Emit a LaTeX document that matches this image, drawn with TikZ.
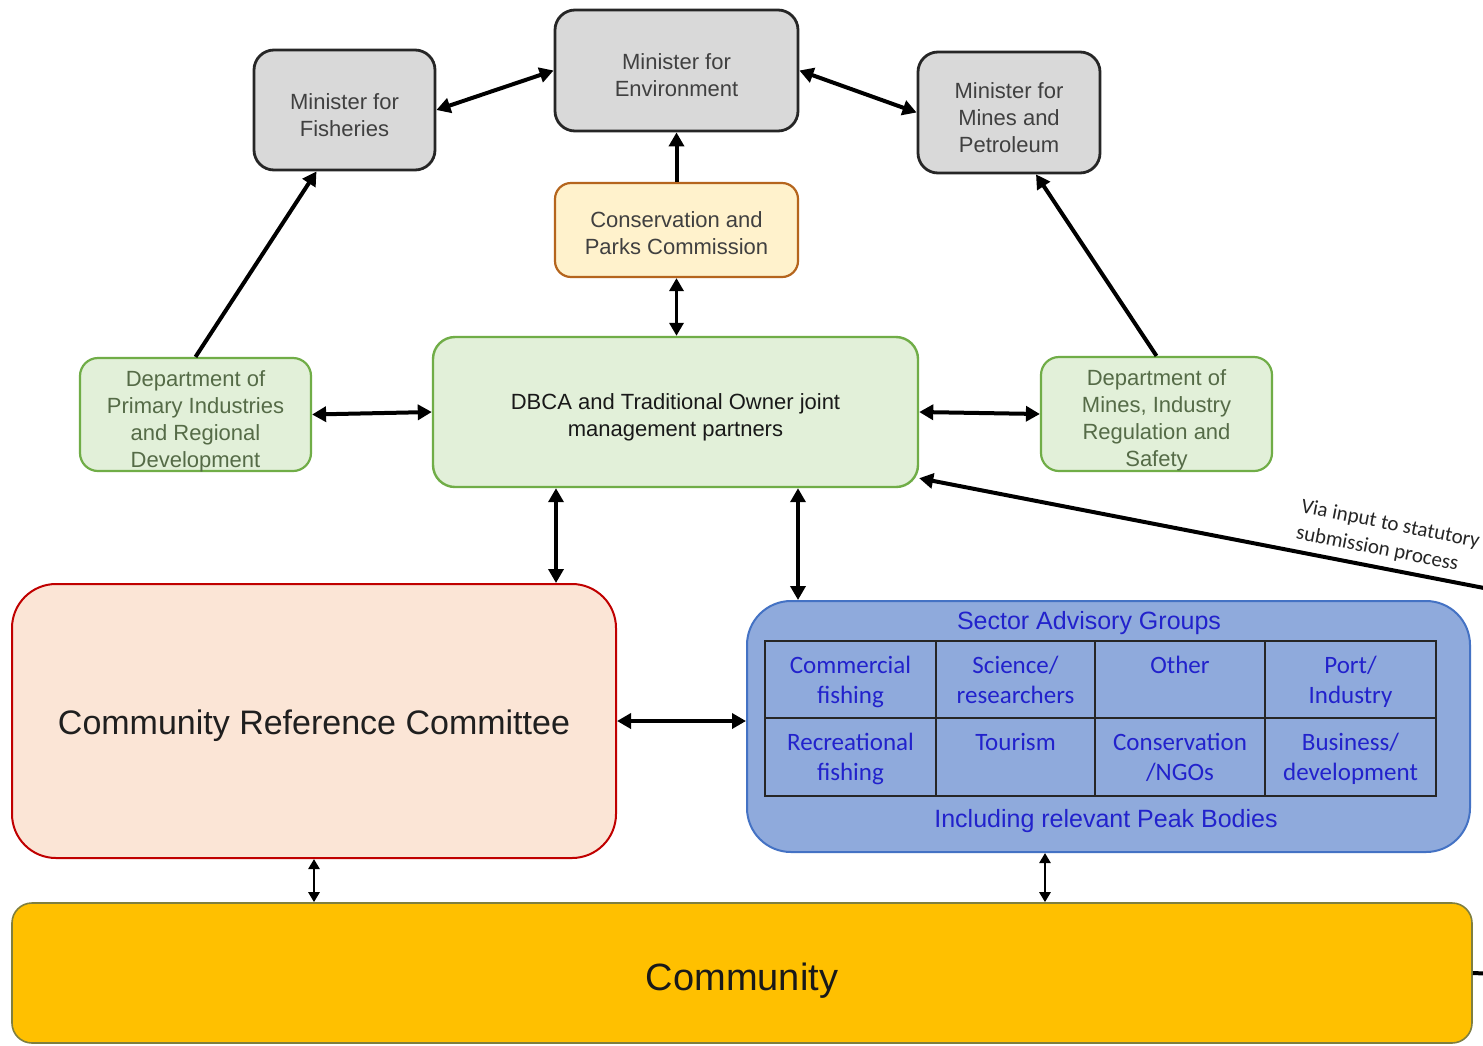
\documentclass[tikz,border=0pt]{standalone}
\usepackage{fontspec}
\setmainfont{Liberation Sans}
\newfontfamily\calfont{Carlito}
\usetikzlibrary{arrows.meta,calc}
\definecolor{grayfill}{HTML}{D9D9D9}
\definecolor{graytext}{HTML}{404040}
\definecolor{cpcfill}{HTML}{FFF2CC}
\definecolor{cpcborder}{HTML}{B5651D}
\definecolor{greenfill}{HTML}{E2F0D9}
\definecolor{greenborder}{HTML}{70AD47}
\definecolor{greentext}{HTML}{556B47}
\definecolor{crcfill}{HTML}{FBE5D6}
\definecolor{crcborder}{HTML}{C00000}
\definecolor{sagfill}{HTML}{8FAADC}
\definecolor{sagborder}{HTML}{4472C4}
\definecolor{sagtext}{HTML}{2222CC}
\definecolor{commfill}{HTML}{FFC000}
\definecolor{commborder}{HTML}{7F7F3F}
\tikzset{
  minbox/.style={draw=black!85, line width=1.4pt, fill=grayfill, rounded corners=10pt},
  cpcbox/.style={draw=cpcborder, line width=1.1pt, fill=cpcfill, rounded corners=8pt},
  greenbox/.style={draw=greenborder, line width=1.1pt, fill=greenfill, rounded corners=9pt},
  dbcabox/.style={draw=greenborder, line width=1.2pt, fill=greenfill, rounded corners=11pt},
  crcbox/.style={draw=crcborder, line width=1pt, fill=crcfill, rounded corners=22pt},
  sagbox/.style={draw=sagborder, line width=1pt, fill=sagfill, rounded corners=22pt},
  commbox/.style={draw=commborder, line width=0.8pt, fill=commfill, rounded corners=10pt},
  boxtext/.style={align=center, inner sep=0pt, font=\fontsize{11}{13.5}\selectfont},
  graytxt/.style={boxtext, text=graytext},
  greentxt/.style={boxtext, text=greentext},
  darktxt/.style={boxtext, text=black!90},
  crctxt/.style={inner sep=0pt, text=black!88, font=\fontsize{17}{20}\selectfont},
  commtxt/.style={inner sep=0pt, text=black!90, font=\fontsize{19}{22}\selectfont},
  sagtitle/.style={text=sagtext, font=\fontsize{12.5}{15}\selectfont, inner sep=0pt},
  cell/.style={anchor=north, text=sagtext, align=center, inner sep=0pt, font=\calfont\fontsize{12.5}{15}\selectfont},
  arr/.style={line width=2pt, >={Triangle[length=7pt,width=7.5pt]}},
  marr/.style={line width=1.9pt, >={Triangle[length=6.5pt,width=7pt]}},
  sarr/.style={line width=1.4pt, >={Triangle[length=5pt,width=5.5pt]}},
  vialabel/.style={anchor=west, text=black!85, inner sep=0pt, font=\calfont\fontsize{10.5}{12.5}\selectfont}
}
\begin{document}
\begin{tikzpicture}[x=0.5pt,y=-0.5pt]
\clip (0,0) rectangle (1483,1045);
\fill[white] (0,0) rectangle (1483,1045);

% boxes
\node[minbox, minimum width=90.5pt, minimum height=60pt] (fish) at (344.5,110) {};
\node[minbox, minimum width=121.5pt, minimum height=60.5pt] (env) at (676.5,70.5) {};
\node[minbox, minimum width=91pt, minimum height=60.5pt] (mines) at (1009,112.5) {};
\node[cpcbox, minimum width=121.5pt, minimum height=47pt] (cpc) at (676.5,230) {};
\node[dbcabox, minimum width=242.5pt, minimum height=75pt] (dbca) at (675.5,412) {};
\node[greenbox, minimum width=115.5pt, minimum height=56.5pt] (dpird) at (195.5,414.5) {};
\node[greenbox, minimum width=115.5pt, minimum height=57pt] (dmirs) at (1156.5,414) {};
\node[crcbox, minimum width=302pt, minimum height=137pt] (crc) at (314,721) {};
\node[sagbox, minimum width=361.5pt, minimum height=125.5pt] (sag) at (1108.5,726.5) {};
\node[commbox, minimum width=730pt, minimum height=70pt] (comm) at (742,973) {};

% box texts
\node[graytxt] (fisht) at (344.5,115) {Minister for\\Fisheries};
\node[graytxt] (envt) at (676.5,75.5) {Minister for\\Environment};
\node[graytxt] (minest) at (1009,117.5) {Minister for\\Mines and\\Petroleum};
\node[graytxt] (cpct) at (676.5,233) {Conservation and\\Parks Commission};
\node[darktxt] (dbcat) at (675.5,417) {DBCA and Traditional Owner joint\\management partners};
\node[greentxt] (dpirdt) at (195.5,421) {Department of\\Primary Industries\\and Regional\\Development};
\node[greentxt] (dmirst) at (1156.5,420) {Department of\\Mines, Industry\\Regulation and\\Safety};
\node[crctxt] (crct) at (314,726) {Community Reference Committee};
\node[commtxt] (commt) at (742,981) {Community};

% sector advisory groups content
\node[sagtitle] (sagt) at (1089,623) {Sector Advisory Groups};
\node[sagtitle] (sagb) at (1106,821) {Including relevant Peak Bodies};
\draw[line width=1pt, black!85] (765,641) rectangle (1436,796);
\draw[line width=1pt, black!85] (765,718) -- (1436,718);
\draw[line width=1pt, black!85] (936,641) -- (936,796);
\draw[line width=1pt, black!85] (1095,641) -- (1095,796);
\draw[line width=1pt, black!85] (1265,641) -- (1265,796);
\node[cell] (c11) at (850.5,656) {Commercial\\fishing};
\node[cell] (c12) at (1015.5,656) {Science/\\researchers};
\node[cell] (c13) at (1180,656) {Other};
\node[cell] (c14) at (1350.5,656) {Port/\\Industry};
\node[cell] (c21) at (850.5,733) {Recreational\\fishing};
\node[cell] (c22) at (1015.5,733) {Tourism};
\node[cell] (c23) at (1180,733) {Conservation\\/NGOs};
\node[cell] (c24) at (1350.5,733) {Business/\\development};

% connectors
\draw[arr,<->] (fish.east) -- (env.west);
\draw[arr,<->] (env.east) -- (mines.west);
\draw[arr,->] (cpc.north) -- (env.south);
\draw[marr,<->] (cpc.south) -- (cpc.south |- dbca.north);
\coordinate (fishin) at ([xshift=-14pt]fish.south);
\draw[arr,->] (dpird.north) -- (fishin);
\coordinate (minesin) at ([xshift=13.5pt]mines.south);
\draw[arr,->] (dmirs.north) -- (minesin);
\draw[arr,<->] (dpird.east) -- (dbca.west);
\draw[arr,<->] (dbca.east) -- (dmirs.west);
\coordinate (dcrc) at ([xshift=-59.75pt]dbca.south);
\draw[arr,<->] (dcrc) -- (dcrc |- crc.north);
\coordinate (dsag) at ([xshift=61.25pt]dbca.south);
\draw[arr,<->] (dsag) -- (dsag |- sag.north);
\draw[arr,<->] (crc.east) -- (crc.east -| sag.west);
\draw[sarr,<->] (crc.south) -- (crc.south |- comm.north);
\coordinate (scomm) at ([xshift=-31.75pt]sag.south);
\draw[sarr,<->] (scomm) -- (scomm |- comm.north);

% statutory submission line
\coordinate (dbcain) at ([yshift=5pt]dbca.south east);
\coordinate (vbend) at (1520,595);
\coordinate (vcorner) at (1520,975);
\draw[arr,->] (comm.east) -- (vcorner) -- (vbend) -- (dbcain);
\node[vialabel, rotate=-11.1] (via1) at (1301,507) {Via input to statutory};
\node[vialabel, rotate=-11.1] (via2) at (1296,533) {submission process};
\end{tikzpicture}
\end{document}
